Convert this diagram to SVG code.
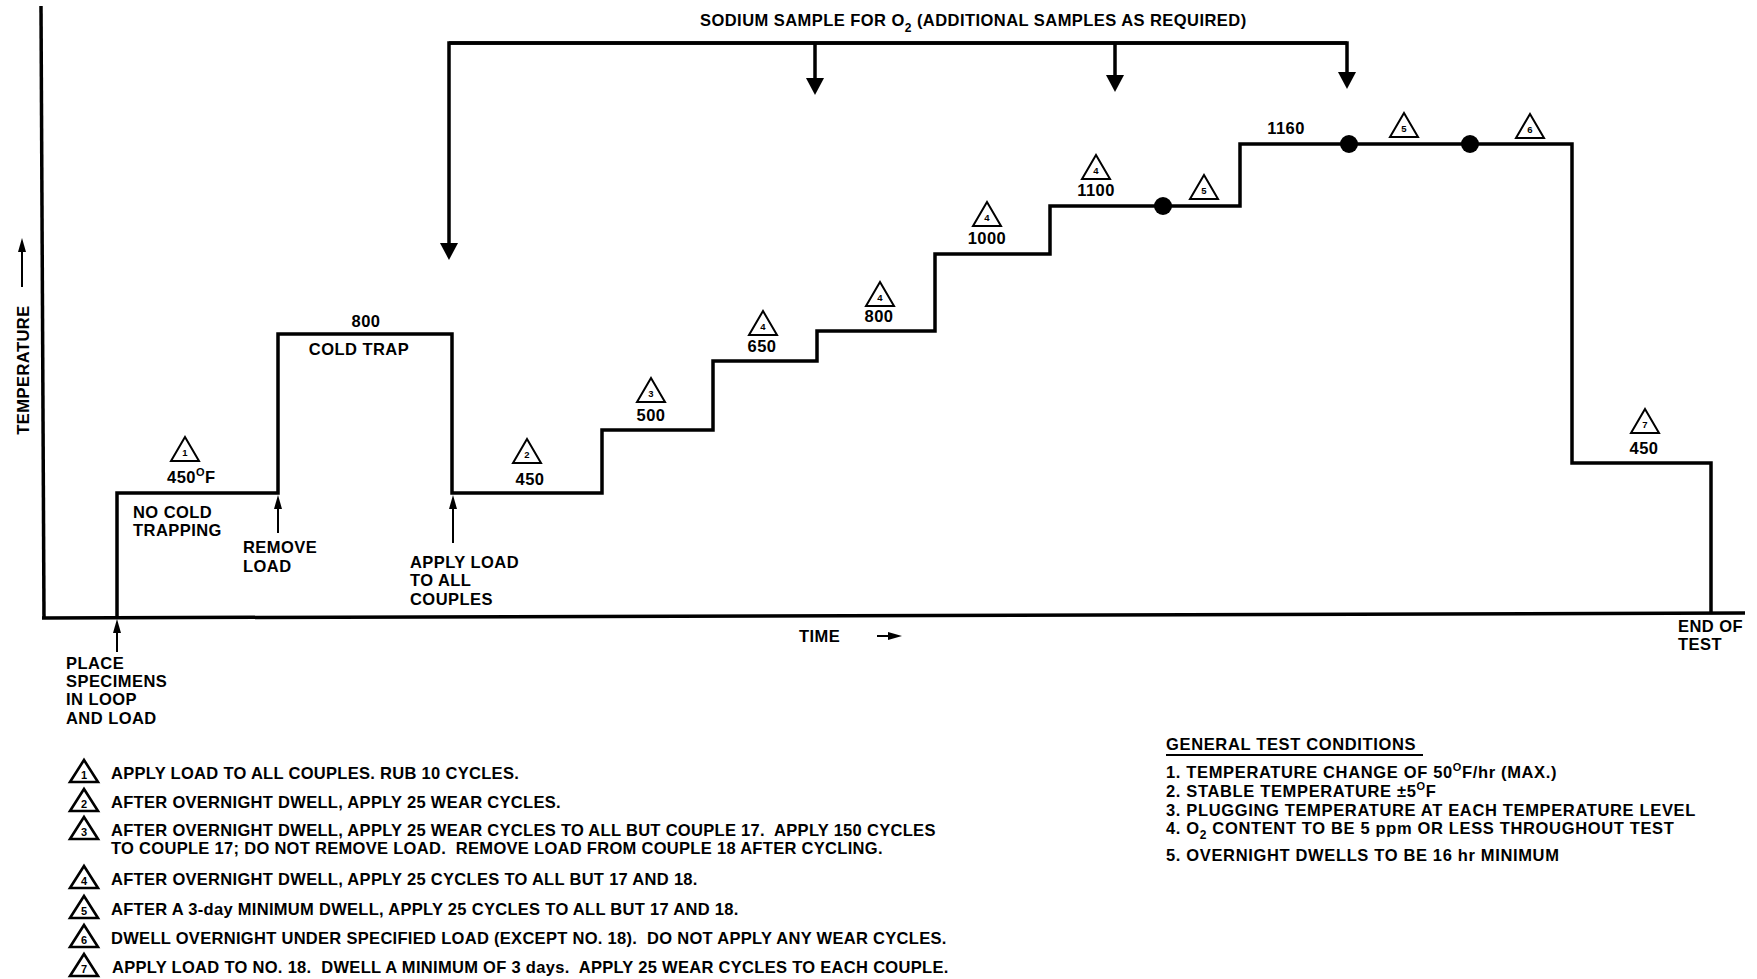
<svg xmlns="http://www.w3.org/2000/svg" xmlns:xlink="http://www.w3.org/1999/xlink" width="1757" height="979" viewBox="0 0 1757 979">
<style>
  text { font-family: "Liberation Sans", Arial, sans-serif; font-weight: bold; font-size: 16.5px; fill: #000; letter-spacing: 0.45px; }
  .mid { text-anchor: middle; }
  .line { fill: none; stroke: #000; stroke-width: 3.5; stroke-linejoin: miter; }
  .thin { fill: none; stroke: #000; stroke-width: 2; }
  .tri { fill: #fff; stroke: #000; stroke-width: 2; stroke-linejoin: miter; }
  .ltri { fill: #fff; stroke: #000; stroke-width: 2.6; stroke-linejoin: miter; }
  .tn { font-size: 9.5px; text-anchor: middle; letter-spacing: 0; }
  .ln { font-size: 11px; text-anchor: middle; letter-spacing: 0; }
  .sup { font-size: 11px; }
  .dot { fill: #000; }
  #legend text.lt { letter-spacing: 0.3px; }
  #general-test-conditions text { letter-spacing: 0.65px; }
</style>
<defs>
  <marker id="bigArrow" markerUnits="userSpaceOnUse" markerWidth="18" markerHeight="18" refX="3" refY="9" orient="auto">
    <path d="M0,0 L17,9 L0,18 Z" fill="#000"/>
  </marker>
  <marker id="smallArrow" markerUnits="userSpaceOnUse" markerWidth="14" markerHeight="8" refX="1" refY="4" orient="auto">
    <path d="M0,0 L14,4 L0,8 Z" fill="#000"/>
  </marker>
  <path id="tri" d="M0,-24 L14,0 L-14,0 Z"/>
  <path id="ltri" d="M0,-22 L14,0 L-14,0 Z"/>
</defs>
<rect width="1757" height="979" fill="#fff"/>

<g id="axes">
  <path class="line" d="M41,6 L44,618"/>
  <path class="line" d="M42,618 L1745,613"/>
  <text transform="translate(28.5,370) rotate(-90)" class="mid">TEMPERATURE</text>
  <text x="799" y="642">TIME</text>
  <text x="1678" y="632">END OF</text>
  <text x="1678" y="650">TEST</text>
</g>

<g id="connectors">
  <path id="temperature-profile" class="line" d="M117,617 V493 H278 V334 H452 V493 H602 V430 H713 V361 H817 V331 H935 V254 H1050 V206 H1240 V144 H1572 V463 H1711 V614"/>
  <path class="line" d="M1347,43 H449 V246" marker-end="url(#bigArrow)"/>
  <path class="line" d="M449,43 H1347 V75" marker-end="url(#bigArrow)"/>
  <path class="line" d="M815,43 V81" marker-end="url(#bigArrow)"/>
  <path class="line" d="M1115,43 V78" marker-end="url(#bigArrow)"/>
  <path class="thin" d="M117,652 V632" marker-end="url(#smallArrow)"/>
  <path class="thin" d="M278,533 V508" marker-end="url(#smallArrow)"/>
  <path class="thin" d="M453,543 V508" marker-end="url(#smallArrow)"/>
  <path class="thin" d="M22,287 V251" marker-end="url(#smallArrow)"/>
  <path class="thin" d="M877,636 H889" marker-end="url(#smallArrow)"/>
  <circle class="dot" cx="1163" cy="206" r="9"/>
  <circle class="dot" cx="1349" cy="144" r="9"/>
  <circle class="dot" cx="1470" cy="144" r="9"/>
</g>

<g id="sodium-sample">
  <text x="700" y="26">SODIUM SAMPLE FOR O<tspan font-size="12" dy="6">2</tspan><tspan dy="-6"> (ADDITIONAL SAMPLES AS REQUIRED)</tspan></text>
</g>

<g id="step-450-start">
  <use href="#tri" x="185" y="461" class="tri"/>
  <text x="185" y="456" class="tn">1</text>
  <text x="167" y="483">450<tspan class="sup" dy="-7">O</tspan><tspan dy="7">F</tspan></text>
  <text x="133" y="518">NO COLD</text>
  <text x="133" y="536">TRAPPING</text>
</g>

<g id="event-place">
  <text x="66" y="669">PLACE</text>
  <text x="66" y="687">SPECIMENS</text>
  <text x="66" y="705">IN LOOP</text>
  <text x="66" y="724">AND LOAD</text>
</g>

<g id="event-remove">
  <text x="243" y="553">REMOVE</text>
  <text x="243" y="572">LOAD</text>
</g>

<g id="step-800-cold-trap">
  <text x="366" y="327" class="mid">800</text>
  <text x="359" y="355" class="mid">COLD TRAP</text>
</g>

<g id="event-apply">
  <text x="410" y="568">APPLY LOAD</text>
  <text x="410" y="586">TO ALL</text>
  <text x="410" y="605">COUPLES</text>
</g>

<g id="step-450">
  <use href="#tri" x="527" y="463" class="tri"/>
  <text x="527" y="458" class="tn">2</text>
  <text x="530" y="485" class="mid">450</text>
</g>

<g id="step-500">
  <use href="#tri" x="651" y="402" class="tri"/>
  <text x="651" y="397" class="tn">3</text>
  <text x="651" y="421" class="mid">500</text>
</g>

<g id="step-650">
  <use href="#tri" x="763" y="335" class="tri"/>
  <text x="763" y="330" class="tn">4</text>
  <text x="762" y="352" class="mid">650</text>
</g>

<g id="step-800">
  <use href="#tri" x="880" y="306" class="tri"/>
  <text x="880" y="301" class="tn">4</text>
  <text x="879" y="322" class="mid">800</text>
</g>

<g id="step-1000">
  <use href="#tri" x="987" y="226" class="tri"/>
  <text x="987" y="221" class="tn">4</text>
  <text x="987" y="244" class="mid">1000</text>
</g>

<g id="step-1100">
  <use href="#tri" x="1096" y="179" class="tri"/>
  <text x="1096" y="174" class="tn">4</text>
  <text x="1096" y="196" class="mid">1100</text>
  <use href="#tri" x="1204" y="199" class="tri"/>
  <text x="1204" y="194" class="tn">5</text>
</g>

<g id="step-1160">
  <text x="1286" y="134" class="mid">1160</text>
  <use href="#tri" x="1404" y="137" class="tri"/>
  <text x="1404" y="132" class="tn">5</text>
  <use href="#tri" x="1530" y="138" class="tri"/>
  <text x="1530" y="133" class="tn">6</text>
</g>

<g id="step-450-end">
  <use href="#tri" x="1645" y="433" class="tri"/>
  <text x="1645" y="428" class="tn">7</text>
  <text x="1644" y="454" class="mid">450</text>
</g>

<g id="legend">
  <use href="#ltri" x="84" y="782" class="ltri"/><text x="84" y="779" class="ln">1</text>
  <text class="lt" x="111" y="779">APPLY LOAD TO ALL COUPLES. RUB 10 CYCLES.</text>
  <use href="#ltri" x="84" y="811" class="ltri"/><text x="84" y="808" class="ln">2</text>
  <text class="lt" x="111" y="808">AFTER OVERNIGHT DWELL, APPLY 25 WEAR CYCLES.</text>
  <use href="#ltri" x="84" y="839" class="ltri"/><text x="84" y="836" class="ln">3</text>
  <text class="lt" x="111" y="836" xml:space="preserve">AFTER OVERNIGHT DWELL, APPLY 25 WEAR CYCLES TO ALL BUT COUPLE 17.  APPLY 150 CYCLES</text>
  <text class="lt" x="111" y="854" xml:space="preserve">TO COUPLE 17; DO NOT REMOVE LOAD.  REMOVE LOAD FROM COUPLE 18 AFTER CYCLING.</text>
  <use href="#ltri" x="84" y="888" class="ltri"/><text x="84" y="885" class="ln">4</text>
  <text class="lt" x="111" y="885">AFTER OVERNIGHT DWELL, APPLY 25 CYCLES TO ALL BUT 17 AND 18.</text>
  <use href="#ltri" x="84" y="918" class="ltri"/><text x="84" y="915" class="ln">5</text>
  <text class="lt" x="111" y="915">AFTER A 3-day MINIMUM DWELL, APPLY 25 CYCLES TO ALL BUT 17 AND 18.</text>
  <use href="#ltri" x="84" y="947" class="ltri"/><text x="84" y="944" class="ln">6</text>
  <text class="lt" x="111" y="944" xml:space="preserve">DWELL OVERNIGHT UNDER SPECIFIED LOAD (EXCEPT NO. 18).  DO NOT APPLY ANY WEAR CYCLES.</text>
  <use href="#ltri" x="84" y="976" class="ltri"/><text x="84" y="973" class="ln">7</text>
  <text class="lt" x="112" y="973" xml:space="preserve">APPLY LOAD TO NO. 18.  DWELL A MINIMUM OF 3 days.  APPLY 25 WEAR CYCLES TO EACH COUPLE.</text>
</g>

<g id="general-test-conditions">
  <text x="1166" y="750">GENERAL TEST CONDITIONS</text>
  <path class="thin" d="M1166,755 H1423"/>
  <text x="1166" y="778">1. TEMPERATURE CHANGE OF 50<tspan class="sup" dy="-7">O</tspan><tspan dy="7">F/hr (MAX.)</tspan></text>
  <text x="1166" y="797">2. STABLE TEMPERATURE ±5<tspan class="sup" dy="-7">O</tspan><tspan dy="7">F</tspan></text>
  <text x="1166" y="816">3. PLUGGING TEMPERATURE AT EACH TEMPERATURE LEVEL</text>
  <text x="1166" y="834">4. O<tspan font-size="12" dy="5">2</tspan><tspan dy="-5"> CONTENT TO BE 5 ppm OR LESS THROUGHOUT TEST</tspan></text>
  <text x="1166" y="861">5. OVERNIGHT DWELLS TO BE 16 hr MINIMUM</text>
</g>
</svg>
